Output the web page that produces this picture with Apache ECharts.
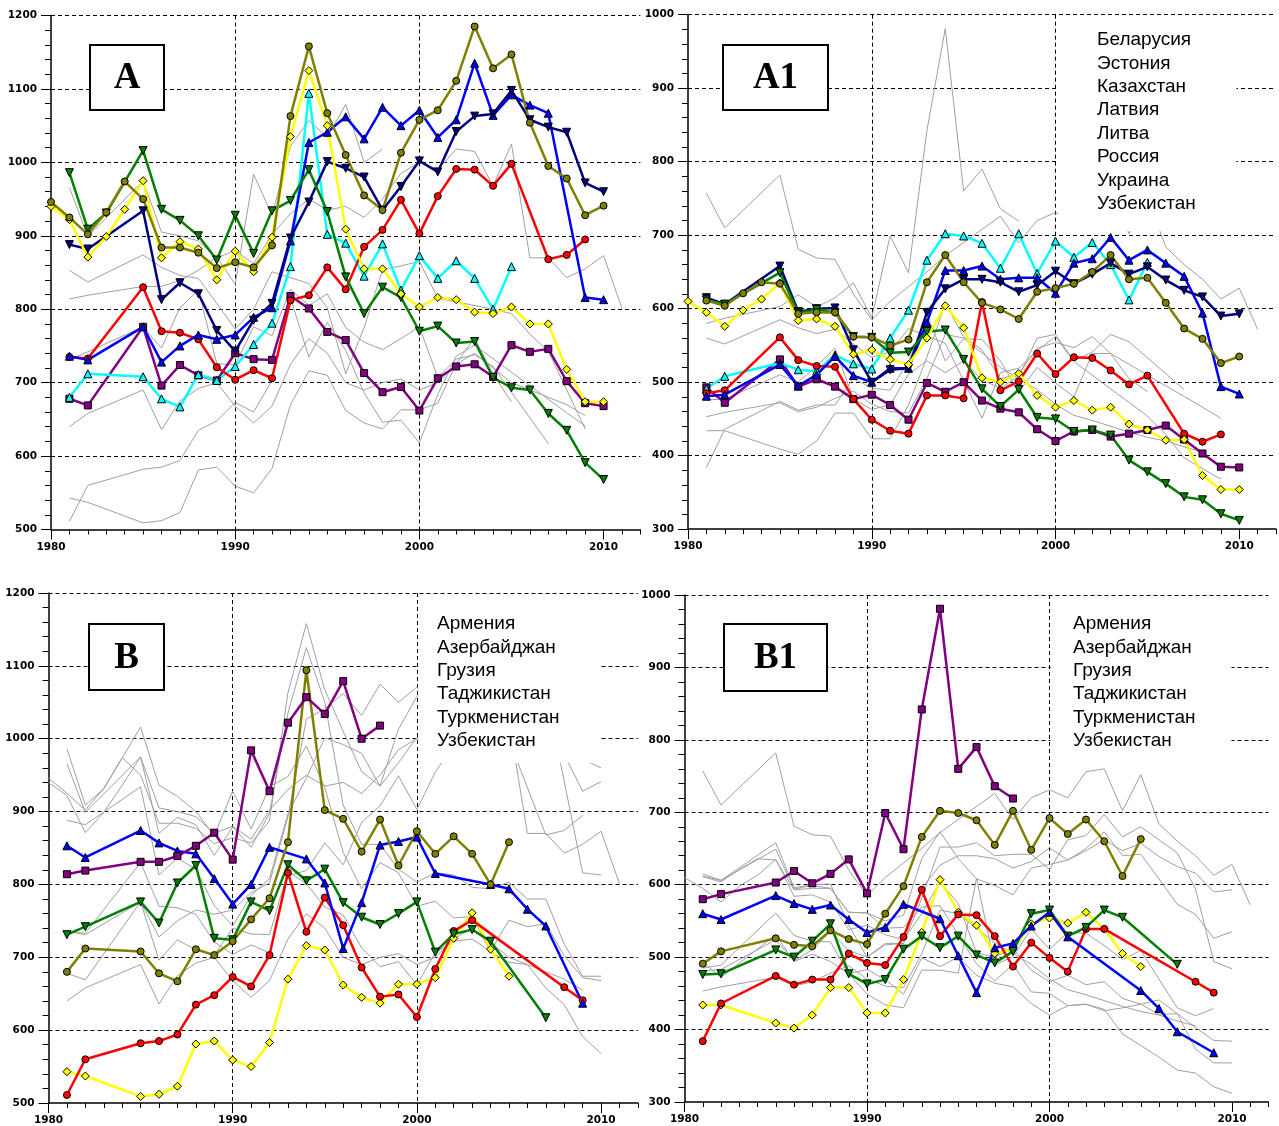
<!DOCTYPE html>
<html><head><meta charset="utf-8">
<script src="https://cdn.jsdelivr.net/npm/echarts@6/dist/echarts.min.js"></script>
<style>html,body{margin:0;padding:0;background:#fff}#c{width:1279px;height:1126px}</style>
</head><body><div id="c"></div>
<script>
// ---------- Panel A / B scale (500–1200) ----------
const aOlive = [[1980,946],[1981,925],[1982,902],[1983,932],[1984,974],[1985,950],[1986,884],[1987,884],[1988,877],[1989,856],[1990,864],[1991,857],[1992,887],[1993,1063],[1994,1158],[1995,1067],[1996,1010],[1997,955],[1998,935],[1999,1013],[2000,1058],[2001,1071],[2002,1111],[2003,1185],[2004,1128],[2005,1147],[2006,1054],[2007,995],[2008,978],[2009,928],[2010,941]];
const aYellow = [[1980,940],[1981,922],[1982,871],[1983,899],[1984,936],[1985,975],[1986,870],[1987,892],[1988,882],[1989,840],[1990,879],[1991,851],[1992,898],[1993,1035],[1994,1125],[1995,1050],[1996,909],[1997,855],[1998,855],[1999,821],[2000,803],[2001,816],[2002,813],[2003,796],[2004,794],[2005,803],[2006,780],[2007,780],[2008,718],[2009,674],[2010,674]];
const aGreen = [[1981,986],[1982,909],[1983,931],[1985,1016],[1986,936],[1987,921],[1988,900],[1989,867],[1990,928],[1991,876],[1992,934],[1993,948],[1994,990],[1995,933],[1996,844],[1997,794],[1998,830],[1999,816],[2000,770],[2001,777],[2002,754],[2003,756],[2004,707],[2005,693],[2006,690],[2007,658],[2008,635],[2009,591],[2010,568]];
const aNavy = [[1981,888],[1982,882],[1985,934],[1986,813],[1987,836],[1988,821],[1989,771],[1990,743],[1991,785],[1992,808],[1993,897],[1994,946],[1995,1001],[1996,992],[1997,980],[1998,935],[1999,967],[2000,1002],[2001,987],[2002,1042],[2003,1063],[2004,1066],[2005,1098],[2006,1058],[2007,1048],[2008,1041],[2009,972],[2010,960]];
const aBlue = [[1981,736],[1982,731],[1985,776],[1986,728],[1987,750],[1988,765],[1989,759],[1990,765],[1991,789],[1992,802],[1993,893],[1994,1027],[1995,1041],[1996,1062],[1997,1032],[1998,1075],[1999,1050],[2000,1071],[2001,1034],[2002,1058],[2003,1135],[2004,1064],[2005,1092],[2006,1078],[2007,1067],[2009,816],[2010,813]];
const aRed = [[1981,735],[1982,733],[1985,830],[1986,770],[1987,768],[1988,759],[1989,721],[1990,704],[1991,717],[1992,706],[1993,812],[1994,819],[1995,857],[1996,827],[1997,885],[1998,908],[1999,949],[2000,903],[2001,954],[2002,991],[2003,990],[2004,968],[2005,998],[2007,868],[2008,874],[2009,895]];
const aPurple = [[1981,678],[1982,669],[1985,776],[1986,696],[1987,724],[1988,710],[1989,703],[1990,740],[1991,732],[1992,731],[1993,818],[1994,801],[1995,769],[1996,758],[1997,713],[1998,687],[1999,694],[2000,662],[2001,706],[2002,722],[2003,725],[2004,708],[2005,751],[2006,742],[2007,746],[2008,702],[2009,672],[2010,668]];
const uzbAB = [[1981,680],[1982,712],[1985,708],[1986,678],[1987,667],[1988,711],[1989,703],[1990,722],[1991,752],[1992,781],[1993,858],[1994,1094],[1995,902],[1996,890],[1997,845],[1998,889],[1999,826],[2000,873],[2001,842],[2002,866],[2003,842],[2004,800],[2005,858]];
const bPurple = [[1981,814],[1982,819],[1985,831],[1986,831],[1987,839],[1988,853],[1989,871],[1990,834],[1991,984],[1992,928],[1993,1022],[1994,1057],[1995,1034],[1996,1079],[1997,1000],[1998,1018]];
const bBlue = [[1981,853],[1982,837],[1985,874],[1986,857],[1987,846],[1988,842],[1989,808],[1990,773],[1991,800],[1992,851],[1994,835],[1995,802],[1996,712],[1997,775],[1998,854],[1999,859],[2000,865],[2001,815],[2004,800],[2005,794],[2006,766],[2007,743],[2009,637]];
const bGreen = [[1981,731],[1982,742],[1985,776],[1986,747],[1987,802],[1988,826],[1989,726],[1990,724],[1991,776],[1992,764],[1993,827],[1994,805],[1995,821],[1996,775],[1997,755],[1998,745],[1999,760],[2000,776],[2001,707],[2002,732],[2003,738],[2004,722],[2007,617]];
const bRed = [[1981,511],[1982,560],[1985,582],[1986,585],[1987,594],[1988,635],[1989,648],[1990,673],[1991,660],[1992,703],[1993,816],[1994,735],[1995,782],[1996,744],[1997,686],[1998,646],[1999,649],[2000,618],[2001,684],[2002,736],[2003,751],[2008,659],[2009,641]];
const bYellow = [[1981,543],[1982,537],[1985,509],[1986,512],[1987,523],[1988,581],[1989,585],[1990,559],[1991,550],[1992,583],[1993,670],[1994,716],[1995,710],[1996,662],[1997,645],[1998,637],[1999,663],[2000,663],[2001,672],[2002,726],[2003,761],[2004,711],[2005,674]];
const abOther1 = [[1981,966],[1982,899],[1985,975],[1986,905],[1987,900],[1988,893],[1989,870],[1990,880],[1991,862],[1992,902],[1993,930],[1994,950],[1995,935],[1996,940],[1997,925],[1998,950],[1999,985],[2000,1000],[2001,990],[2002,1018],[2003,1015],[2004,968],[2005,1025],[2006,870],[2007,870],[2008,843],[2009,855],[2010,873],[2011,801]];
const abOther2 = [[1981,640],[1982,658],[1985,690],[1986,636],[1987,675],[1988,692],[1989,700],[1990,668],[1991,645],[1992,668],[1993,725],[1994,760],[1995,740],[1996,700],[1997,690],[1998,700],[1999,705],[2000,690],[2001,700],[2002,725],[2003,740],[2004,720],[2005,700],[2006,690],[2007,680],[2008,670],[2009,655]];

// ---------- Panel A1 / B1 scale (300–1000) ----------
const a1Olive = [[1981,611],[1982,604],[1983,621],[1984,636],[1985,634],[1986,593],[1987,595],[1988,595],[1989,562],[1990,561],[1991,550],[1992,558],[1993,636],[1994,673],[1995,636],[1996,608],[1997,599],[1998,586],[1999,623],[2000,628],[2001,634],[2002,650],[2003,673],[2004,640],[2005,642],[2006,608],[2007,573],[2008,559],[2009,526],[2010,535]];
const a1Yellow = [[1980,610],[1981,595],[1982,576],[1983,598],[1984,613],[1985,635],[1986,584],[1987,586],[1988,576],[1989,538],[1990,544],[1991,531],[1992,524],[1993,560],[1994,604],[1995,574],[1996,506],[1997,500],[1998,512],[1999,482],[2000,466],[2001,475],[2002,462],[2003,466],[2004,443],[2005,435],[2006,421],[2007,422],[2008,373],[2009,354],[2010,354]];
const a1Green = [[1981,612],[1982,606],[1985,649],[1986,594],[1987,599],[1988,595],[1989,562],[1990,561],[1991,540],[1992,541],[1993,569],[1994,571],[1995,531],[1996,491],[1997,467],[1998,490],[1999,452],[2000,450],[2001,433],[2002,435],[2003,428],[2004,394],[2005,378],[2006,362],[2007,344],[2008,340],[2009,321],[2010,312]];
const a1Navy = [[1981,615],[1982,606],[1985,658],[1986,596],[1987,600],[1988,601],[1989,544],[1990,500],[1991,517],[1992,519],[1993,595],[1994,627],[1995,640],[1996,640],[1997,636],[1998,623],[1999,632],[2000,651],[2001,634],[2002,647],[2003,662],[2004,647],[2005,657],[2006,639],[2007,625],[2008,616],[2009,590],[2010,593]];
const a1Blue = [[1981,481],[1982,483],[1985,524],[1986,495],[1987,510],[1988,535],[1989,509],[1990,500],[1991,519],[1992,519],[1993,581],[1994,652],[1995,652],[1996,658],[1997,640],[1998,642],[1999,642],[2000,621],[2001,662],[2002,668],[2003,697],[2004,666],[2005,680],[2006,662],[2007,644],[2008,594],[2009,494],[2010,484]];
const a1Red = [[1981,485],[1982,489],[1985,561],[1986,530],[1987,522],[1988,521],[1989,477],[1990,449],[1991,434],[1992,430],[1993,482],[1994,482],[1995,478],[1996,609],[1997,489],[1998,501],[1999,539],[2000,511],[2001,534],[2002,533],[2003,516],[2004,497],[2005,509],[2007,430],[2008,419],[2009,429]];
const a1Purple = [[1981,493],[1982,472],[1985,531],[1986,494],[1987,504],[1988,494],[1989,477],[1990,483],[1991,469],[1992,449],[1993,499],[1994,487],[1995,500],[1996,475],[1997,464],[1998,459],[1999,436],[2000,420],[2001,433],[2002,435],[2003,426],[2004,430],[2005,435],[2006,441],[2007,422],[2008,403],[2009,385],[2010,384]];
const uzbA1B1 = [[1981,491],[1982,508],[1985,526],[1986,517],[1987,515],[1988,537],[1989,525],[1990,518],[1991,560],[1992,598],[1993,666],[1994,702],[1995,699],[1996,689],[1997,655],[1998,702],[1999,648],[2000,692],[2001,670],[2002,690],[2003,660],[2004,612],[2005,663]];
const b1Purple = [[1981,580],[1982,587],[1985,603],[1986,619],[1987,602],[1988,615],[1989,635],[1990,588],[1991,699],[1992,649],[1993,842],[1994,981],[1995,760],[1996,790],[1997,736],[1998,719]];
const b1Blue = [[1981,560],[1982,552],[1985,585],[1986,574],[1987,566],[1988,572],[1989,552],[1990,534],[1991,541],[1992,573],[1994,553],[1995,502],[1996,451],[1997,513],[1998,519],[1999,543],[2000,562],[2001,528],[2005,454],[2006,429],[2007,397],[2009,368]];
const b1Green = [[1981,476],[1982,477],[1985,510],[1986,500],[1987,522],[1988,546],[1989,477],[1990,463],[1991,469],[1992,511],[1993,529],[1994,513],[1995,529],[1996,503],[1997,492],[1998,508],[1999,560],[2000,565],[2001,529],[2002,541],[2003,565],[2004,555],[2007,490]];
const b1Red = [[1981,384],[1982,436],[1985,474],[1986,462],[1987,469],[1988,469],[1989,505],[1990,492],[1991,489],[1992,528],[1993,593],[1994,529],[1995,559],[1996,558],[1997,529],[1998,487],[1999,520],[2000,499],[2001,480],[2002,539],[2003,539],[2008,466],[2009,451]];
const b1Yellow = [[1981,434],[1982,434],[1985,409],[1986,402],[1987,420],[1988,458],[1989,458],[1990,423],[1991,423],[1992,469],[1993,534],[1994,607],[1995,562],[1996,544],[1997,505],[1998,511],[1999,546],[2000,554],[2001,547],[2002,562],[2003,539],[2004,505],[2005,487]];
const c1Other1 = [[1981,757],[1982,710],[1985,782],[1986,681],[1987,669],[1988,667],[1989,620],[1990,585],[1991,610],[1992,630],[1993,650],[1994,672],[1995,690],[1996,708],[1997,726],[1998,690],[1999,720],[2000,731],[2001,720],[2002,756],[2003,760],[2004,702],[2005,752],[2006,684],[2007,660],[2008,640],[2009,613],[2010,628],[2011,572]];
const c1Other2 = [[1981,453],[1982,459],[1985,472],[1986,460],[1987,466],[1988,478],[1989,488],[1990,470],[1991,460],[1992,458],[1993,505],[1994,565],[1995,560],[1996,540],[1997,520],[1998,505],[1999,490],[2000,470],[2001,455],[2002,448],[2003,440],[2004,432],[2005,425],[2006,420],[2007,412],[2008,405]];

// ---------- labels ----------
const xLabelYears = [1980, 1990, 2000, 2010];
const legendA1 = ['Беларусия','Эстония','Казахстан','Латвия','Литва','Россия','Украина','Узбекистан'];
const legendB = ['Армения','Азербайджан','Грузия','Таджикистан','Туркменистан','Узбекистан'];
const panelTitles = ['A','A1','B','B1'];

const C = {olive:'#808000', yellow:'#ffff00', green:'#008000', navy:'#000080', blue:'#0000ff', red:'#ff0000', purple:'#800080', cyan:'#00ffff'};

const panels = [
  {grid:{left:51, top:15.5, width:589.4, height:514}, yMin:500, yMax:1200,
   colored:[[aPurple,'purple','rect'],[uzbAB,'cyan','triangle'],[aRed,'red','circle'],[aBlue,'blue','triangle'],[aNavy,'navy','down'],[aGreen,'green','down'],[aYellow,'yellow','diamond'],[aOlive,'olive','circle']],
   gray:[bPurple,bBlue,bGreen,bRed,bYellow,abOther1,abOther2]},
  {grid:{left:688, top:14.7, width:592, height:514.5}, yMin:300, yMax:1000,
   colored:[[a1Purple,'purple','rect'],[uzbA1B1,'cyan','triangle'],[a1Red,'red','circle'],[a1Blue,'blue','triangle'],[a1Navy,'navy','down'],[a1Green,'green','down'],[a1Yellow,'yellow','diamond'],[a1Olive,'olive','circle']],
   gray:[b1Purple,b1Blue,b1Green,b1Red,b1Yellow,c1Other1,c1Other2]},
  {grid:{left:48.5, top:593, width:589.4, height:510}, yMin:500, yMax:1200,
   colored:[[bYellow,'yellow','diamond'],[bRed,'red','circle'],[bGreen,'green','down'],[bBlue,'blue','triangle'],[uzbAB,'olive','circle'],[bPurple,'purple','rect']],
   gray:[aOlive,aYellow,aGreen,aNavy,aBlue,aRed,aPurple,abOther1,abOther2]},
  {grid:{left:684.5, top:595, width:584, height:507}, yMin:300, yMax:1000,
   colored:[[b1Yellow,'yellow','diamond'],[b1Red,'red','circle'],[b1Green,'green','down'],[b1Blue,'blue','triangle'],[uzbA1B1,'olive','circle'],[b1Purple,'purple','rect']],
   gray:[a1Olive,a1Yellow,a1Green,a1Navy,a1Blue,a1Red,a1Purple,c1Other1,c1Other2]}
];

const grid = [], xAxis = [], yAxis = [], series = [];
const dash = {type:[4,3], color:'#000', width:1};
const lblFont = {color:'#000', fontSize:10.5, fontWeight:'bold', fontFamily:'DejaVu Sans'};

panels.forEach((p, g) => {
  grid.push(Object.assign({containLabel:false}, p.grid));
  xAxis.push({type:'value', gridIndex:g, position:'bottom', min:1980, max:2012, interval:1,
    axisLine:{show:true, lineStyle:{color:'#000', width:1.5}},
    axisTick:{show:true, length:5, lineStyle:{color:'#000'}},
    axisLabel:Object.assign({margin:12, formatter:v => (xLabelYears.includes(v) ? String(v) : '')}, lblFont),
    splitLine:{show:false}});
  xAxis.push({type:'value', gridIndex:g, position:'bottom', min:1980, max:2012, interval:10,
    axisLine:{show:false},
    axisTick:{show:true, length:10, customValues:xLabelYears, lineStyle:{color:'#000'}},
    axisLabel:{show:false},
    splitLine:{show:true, showMinLine:false, showMaxLine:false, lineStyle:dash}});
  yAxis.push({type:'value', gridIndex:g, min:p.yMin, max:p.yMax, interval:100,
    axisLine:{show:true, lineStyle:{color:'#000', width:1.5}},
    axisTick:{show:true, length:10, lineStyle:{color:'#000'}},
    minorTick:{show:true, splitNumber:5, length:6, lineStyle:{color:'#000'}},
    axisLabel:Object.assign({margin:14, formatter:v => String(v)}, lblFont),
    splitLine:{show:true, showMinLine:false, lineStyle:dash}});
  p.gray.forEach(d => series.push({type:'line', xAxisIndex:2*g, yAxisIndex:g, data:d, symbol:'none',
    lineStyle:{color:'#a0a0a0', width:1}, z:3, silent:true, animation:false}));
  p.colored.forEach(([d, col, sym]) => series.push({type:'line', xAxisIndex:2*g, yAxisIndex:g, data:d,
    symbol: sym === 'down' ? 'triangle' : sym, symbolRotate: sym === 'down' ? 180 : 0,
    symbolSize: sym === 'diamond' ? 8 : (sym === 'triangle' || sym === 'down' ? 8 : 7),
    showSymbol:true, lineStyle:{color:C[col], width:2.5},
    itemStyle:{color:C[col], borderColor:'#000', borderWidth:1}, z:5, silent:true, animation:false}));
});

const elements = [];
const titleBoxes = [[90,45,74,65],[723,45,105,65],[89,624,75,66],[724,624,103,67]];
titleBoxes.forEach(([x,y,w,h], i) => {
  elements.push({type:'rect', z:100, shape:{x, y, width:w, height:h}, style:{fill:'#fff', stroke:'#000', lineWidth:2}});
  elements.push({type:'text', z:101, x:x + w/2, y:y + h/2 + 1, style:{text:panelTitles[i], fontFamily:'Liberation Serif', fontSize:37, fontWeight:'bold', fill:'#000', align:'center', verticalAlign:'middle'}});
});
function legendBlock(names, rect, tx, y0, step) {
  elements.push({type:'rect', z:100, shape:rect, style:{fill:'#fff', lineWidth:0}});
  names.forEach((n, i) => elements.push({type:'text', z:101, x:tx, y:y0 + i*step,
    style:{text:n, fontFamily:'Liberation Sans', fontSize:19, fill:'#000', align:'left', verticalAlign:'middle'}}));
}
legendBlock(legendA1, {x:1058.5, y:22, width:178, height:209}, 1097, 40, 23.4);
legendBlock(legendB, {x:418.5, y:600, width:182, height:163}, 437, 624, 23.4);
legendBlock(legendB, {x:1050.5, y:600, width:181, height:163}, 1073, 624, 23.4);

const chart = echarts.init(document.getElementById('c'), null, {renderer:'canvas'});
chart.setOption({animation:false, backgroundColor:'#fff', grid, xAxis, yAxis, series, graphic:{elements}});
</script>
</body></html>
